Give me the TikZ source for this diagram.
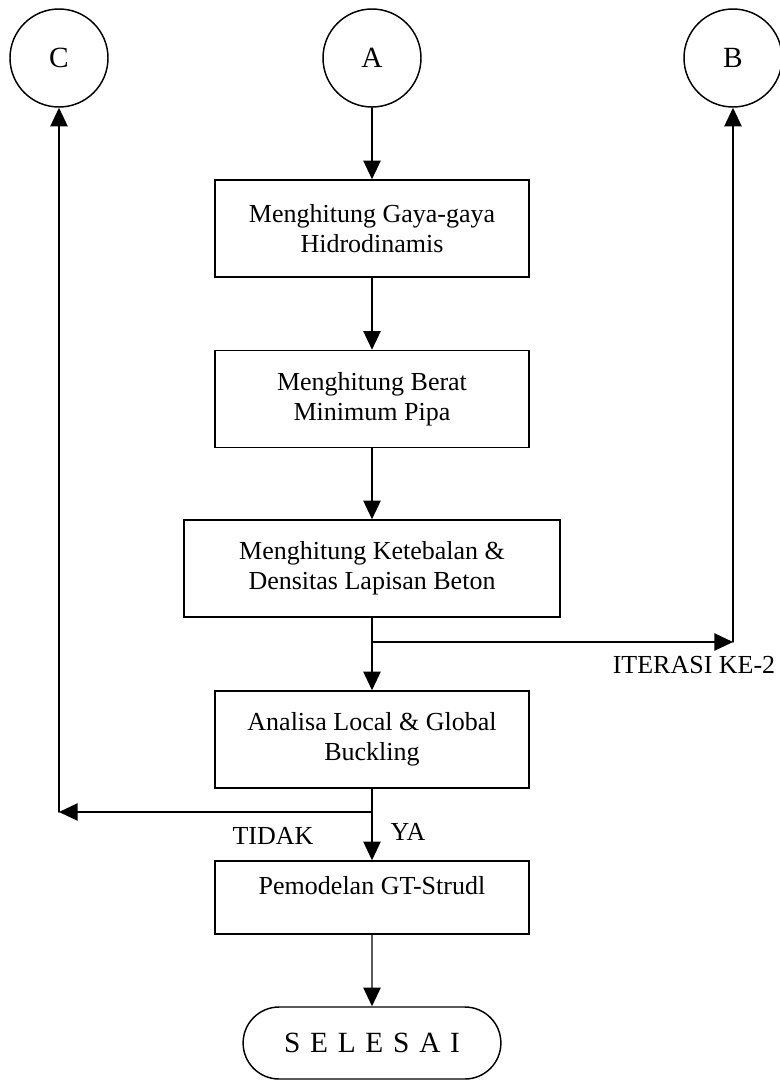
\documentclass[tikz,border=0pt]{standalone}
\usepackage{fontspec}
\setmainfont{Liberation Serif}
\usetikzlibrary{arrows.meta,shapes.misc}

\begin{document}
\begin{tikzpicture}
		[x=0.75pt,y=-0.75pt,line cap=round,
		%Styles
		flow line/.style={line width=1.1pt,-{Triangle[length=14pt,width=13pt]}},
		process box/.style={draw,line width=1.1pt,minimum width=235.5pt,minimum height=72.75pt,align=center,font=\fontsize{19.5}{22.5}\selectfont},
		connector/.style={circle,draw,line width=1.1pt,minimum size=73.5pt,inner sep=0pt,font=\fontsize{22}{24}\selectfont},
		terminal/.style={rounded rectangle,draw,line width=1.1pt,minimum width=200pt,minimum height=54pt,font=\fontsize{22}{26}\selectfont},
		information text/.style={font=\fontsize{19.5}{22.5}\selectfont,inner sep=1pt}
		]
		
		%Frame
		\useasboundingbox (0,0) rectangle (779,1082);
		
		%The graphic
		\node[connector] (C) at (59,58) {C};
		\node[connector] (A) at (372,58) {A};
		\node[connector] (B) at (733,58) {B};
		
		\node[process box] (gaya) at (372,228.5) {Menghitung Gaya-gaya\\Hidrodinamis};
		\node[process box] (berat) at (372,399) {Menghitung Berat\\Minimum Pipa};
		\node[process box,minimum width=282pt] (beton) at (372,568.5) {Menghitung Ketebalan \&\\Densitas Lapisan Beton};
		\node[process box] (buckling) at (372,739.5) {Analisa Local \& Global\\Buckling};
		\node[process box,minimum height=54.75pt,text depth=18pt] (gtstrudl) at (372,897.5) {Pemodelan GT-Strudl};
		\node[terminal] (selesai) at (372,1043) {S\,\,E\,\,L\,\,E\,\,S\,\,A\,\,I};
		
		\coordinate (iterasi) at (372,642);
		\coordinate (iterasiB) at (733,642);
		\coordinate (cek) at (372,812);
		\coordinate (cekC) at (59,812);
		
		\draw[flow line] (A) -- (gaya);
		\draw[flow line] (gaya) -- (berat);
		\draw[flow line] (berat) -- (beton);
		\draw[flow line] (beton) -- (buckling);
		\draw[flow line] (iterasi) -- (iterasiB);
		\draw[flow line] (iterasiB) -- (B);
		\draw[flow line] (buckling) -- (gtstrudl);
		\draw[flow line] (cek) -- (cekC);
		\draw[flow line] (cekC) -- (C);
		\draw[flow line] (gtstrudl) -- (selesai);
		
		\node[information text] (iterasitext) at (694,665) {ITERASI KE-2};
		\node[information text] (tidak) at (273,836) {TIDAK};
		\node[information text] (ya) at (408,832) {YA};
	\end{tikzpicture}
\end{document}
